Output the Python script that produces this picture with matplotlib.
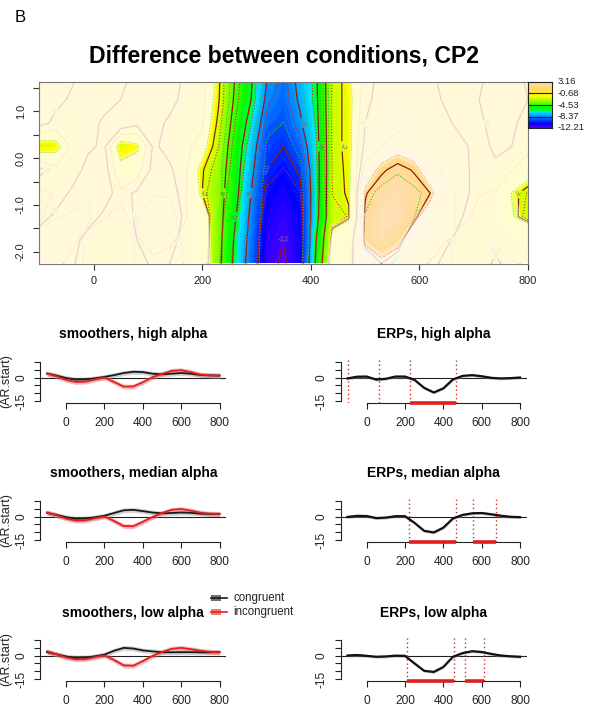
import numpy as np
import matplotlib
matplotlib.use("Agg")
import matplotlib.pyplot as plt
from matplotlib.colors import ListedColormap, Normalize, hsv_to_rgb
from matplotlib.patches import Rectangle
from matplotlib.lines import Line2D

plt.rcParams['font.family'] = ['Liberation Sans', 'DejaVu Sans']

# ---------------- data : heat map (difference surface) ----------------
heat_times = [-100, -70, -40, -10, 20, 50, 80, 110, 140, 170, 200, 230, 260, 290, 320,
              350, 380, 410, 440, 470, 500, 530, 560, 590, 620, 650, 680, 710, 740, 770, 800]
heat_y = [1.75, 1.25, 0.75, 0.25, -0.25, -0.75, -1.25, -1.75, -2.25]
heat_diff = [
    [0.4, 0.2, 0.1, -0.2, -0.3, -0.2, 0.2, 0.4, 0.3, -0.1, -0.3, -1.8, -4.0, -5.8, -8.0, -8.8, -7.6, -6.2, -2.4, -1.7,
     -0.3, 0.2, 0.3, 0.2, 0.1, -0.2, -0.3, -0.1, 0.2, 0.2, -0.1],
    [0.3, 0.2, -0.1, -0.2, -0.2, 0.0, 0.3, 0.4, 0.2, -0.2, -0.3, -1.9, -4.2, -6.0, -8.4, -9.0, -7.8, -6.3, -2.4, -1.7,
     -0.2, 0.3, 0.4, 0.3, 0.2, -0.1, -0.2, 0.0, 0.3, 0.2, 0.0],
    [0.3, -0.2, -0.3, -0.2, 0.1, 0.6, 0.2, 0.2, -0.1, -0.3, -0.5, -2.2, -4.6, -6.6, -9.0, -9.4, -8.2, -6.5, -2.4, -1.7,
     0.0, 0.4, 0.5, 0.4, 0.2, 0.1, -0.2, -0.1, 0.2, 0.1, -0.2],
    [-1.95, -1.8, -0.5, -0.1, 0.1, -1.95, -1.6, 0.1, -0.2, -0.5, -0.9, -2.6, -5.0, -7.2, -9.6, -10.0, -9.0, -6.7, -2.4, -1.7,
     0.2, 0.6, 0.9, 0.6, 0.3, 0.2, 0.1, -0.2, 0.1, 0.0, -0.4],
    [0.2, -0.3, -0.3, 0.2, 0.3, -1.1, -0.8, 0.2, 0.1, -0.4, -1.9, -3.0, -5.2, -7.6, -10.0, -10.6, -9.8, -6.8, -2.4, -1.8,
     0.8, 1.8, 2.4, 1.9, 0.7, 0.4, 0.2, -0.3, -0.1, -0.5, -1.0],
    [-0.5, -0.3, 0.1, 0.3, 0.2, -0.2, 0.1, 0.3, 0.3, -0.3, -2.0, -3.2, -5.4, -8.0, -10.6, -11.2, -10.4, -6.8, -2.3, -1.9,
     1.9, 2.7, 2.9, 2.6, 2.0, 0.5, 0.2, -0.3, -0.4, -1.7, -2.4],
    [-0.2, 0.1, 0.2, 0.2, -0.1, -0.3, 0.1, 0.4, 0.3, -0.1, -1.0, -3.3, -5.8, -8.4, -11.0, -11.6, -10.8, -6.6, -2.4, -2.1,
     2.2, 3.0, 3.1, 2.2, 1.2, 0.3, 0.0, -0.3, -0.4, -1.8, -2.3],
    [0.3, 0.3, 0.2, -0.2, -0.4, -0.3, 0.0, 0.3, 0.2, -0.2, -1.0, -3.4, -6.2, -8.6, -11.4, -12.0, -11.0, -6.0, -1.6, -0.8,
     2.3, 2.9, 2.4, 1.2, 0.4, 0.1, -0.2, -0.4, -0.2, -0.5, -0.9],
    [0.6, 0.4, 0.1, -0.4, -0.6, -0.5, -0.2, 0.1, 0.0, -0.3, -1.1, -3.5, -6.4, -8.8, -11.6, -12.2, -11.0, -5.6, -1.0, -0.4,
     1.4, 2.0, 1.6, 0.5, 0.2, -0.2, -0.4, -0.3, 0.1, -0.2, -0.3],
]
heat_se_by_row = [0.75, 0.7, 0.7, 0.7, 0.75, 0.85, 0.95, 1.05, 1.15]
ci_crit = 1.96
legend_levels = [3.16, -0.68, -4.53, -8.37, -12.21]
contour_levels = [-12, -10, -8, -6, -4, -2, 0, 2, 4]

# ---------------- data : small panels ----------------
curve_t = [-100, -50, 0, 50, 100, 150, 200, 250, 300, 350, 400, 450, 500, 550, 600, 650, 700, 750, 800]
smooth_high_cong = [2.5, 1.2, -0.3, -1.3, -1.2, -0.5, 0.4, 1.5, 2.8, 3.6, 3.4, 2.4, 2.0, 2.4, 2.8, 2.4, 1.6, 1.3, 1.2]
smooth_high_incong = [2.5, 0.8, -1.5, -2.8, -2.6, -1.2, 0.0, -2.8, -5.7, -5.6, -3.0, 0.2, 2.2, 4.2, 4.6, 3.4, 1.8, 1.4, 1.2]
smooth_med_cong = [2.3, 1.0, -0.4, -1.4, -1.3, -0.5, 0.5, 2.2, 3.9, 4.2, 3.4, 2.5, 2.0, 2.2, 2.5, 2.3, 1.8, 1.6, 1.6]
smooth_med_incong = [2.6, 0.8, -1.3, -2.6, -2.5, -1.1, 0.0, -2.8, -6.0, -6.1, -3.3, -0.4, 2.2, 4.2, 4.7, 3.7, 2.4, 1.8, 1.6]
smooth_low_cong = [2.1, 0.8, -0.6, -1.5, -1.3, -0.5, 0.6, 3.0, 4.8, 4.4, 3.2, 2.6, 2.1, 2.0, 2.1, 2.1, 2.0, 2.0, 2.1]
smooth_low_incong = [2.7, 0.8, -1.2, -2.4, -2.3, -1.0, 0.1, -2.8, -6.2, -6.4, -3.5, -0.3, 2.2, 4.2, 4.8, 4.0, 3.0, 2.3, 2.0]
erp_high = [-0.6, 0.5, 0.6, -1.3, -0.8, 0.6, 0.6, -1.5, -6.5, -9.4, -6.8, -1.2, 1.0, 1.5, 0.8, -0.2, -0.6, -0.4, 0.0]
erp_med = [-0.3, 0.4, 0.3, -1.0, -0.7, 0.2, 0.2, -4.0, -9.0, -10.0, -7.0, -1.2, 1.0, 2.0, 2.2, 1.4, 0.5, -0.2, -0.4]
erp_low = [0.0, 0.3, -0.2, -0.8, -0.6, -0.1, -0.2, -5.0, -9.6, -10.3, -7.2, -0.8, 1.5, 2.7, 2.2, 1.0, 0.0, -0.5, -0.8]
smooth_band = 1.5
erp_band = 0.9
sig_lines_high = [-99, 64, 225, 464]
sig_bars_high = [(225, 464)]
sig_lines_med = [220, 466, 556, 676]
sig_bars_med = [(220, 466), (556, 676)]
sig_lines_low = [208, 455, 511, 611]
sig_bars_low = [(208, 455), (511, 611)]
panel_xticks = [0, 200, 400, 600, 800]
panel_yticks = [-15, -10, -5, 0, 5, 10]
panel_ylabels = ['-15', '', '', '0', '', '']
heat_xticks = [0, 200, 400, 600, 800]
heat_yticks = [-2.0, -1.5, -1.0, -0.5, 0.0, 0.5, 1.0, 1.5]
heat_ylabels = ['-2.0', '', '-1.0', '', '0.0', '', '1.0', '']

# ---------------- figure ----------------
W, H = 594, 711
fig = plt.figure(figsize=(W / 100, H / 100), dpi=100)
fig.patch.set_facecolor('white')


def px_axes(l, t, r, b):
    return fig.add_axes([l / W, 1 - b / H, (r - l) / W, (b - t) / H])


def topo_colors(n):
    j = n // 3
    k = n // 3
    i = n - j - k
    hsv = [(h, 1, 1) for h in np.linspace(43 / 60, 31 / 60, i)]
    hsv += [(h, 1, 1) for h in np.linspace(23 / 60, 11 / 60, j)]
    hsv += [(h, s, 1) for h, s in zip(np.linspace(10 / 60, 6 / 60, k), np.linspace(1, 0.3, k))]
    return hsv_to_rgb(np.array(hsv))


cmap = ListedColormap(topo_colors(50))
norm = Normalize(vmin=legend_levels[-1], vmax=legend_levels[0])

fig.text(15 / W, 1 - 22 / H, 'B', fontsize=12, ha='left', va='baseline')
fig.text(283.7 / W, 1 - 62.7 / H, 'Difference between conditions, CP2', fontsize=16.6,
         fontweight='bold', ha='center', va='baseline')

# heat map
ax = px_axes(39.3, 82, 528, 263.5)
Z = np.array(heat_diff)
SE = np.array(heat_se_by_row)[:, None] * np.ones_like(Z)
T = np.array(heat_times, dtype=float)
Yv = np.array(heat_y)
dt = T[1] - T[0]
dy = Yv[0] - Yv[1]
ext = (T[0] - dt / 2, T[-1] + dt / 2, Yv[-1] - dy / 2, Yv[0] + dy / 2)
ax.imshow(Z, cmap=cmap, norm=norm, extent=ext, origin='upper', aspect='auto',
          interpolation='bilinear', interpolation_stage='data', zorder=1)
TT, YY = np.meshgrid(T, Yv[::-1])
Za = Z[::-1]
SEa = SE[::-1]
cs = ax.contour(TT, YY, Za, levels=contour_levels, colors='#8E1B12', linewidths=0.9,
                linestyles='solid', zorder=2)
ax.clabel(cs, fmt='%d', fontsize=5.5, colors='#767676', inline=True, inline_spacing=1)
ax.contour(TT, YY, Za + ci_crit * SEa, levels=contour_levels, colors='#2EC02E', linewidths=0.8,
           linestyles=':', zorder=2)
ax.contour(TT, YY, Za - ci_crit * SEa, levels=contour_levels, colors='#DD2A2A', linewidths=0.8,
           linestyles=':', zorder=2)
# non-significant areas are washed out with a translucent white layer
zscore = Za / SEa
ax.contourf(TT, YY, zscore, levels=[-ci_crit * 1.12, -ci_crit, ci_crit, ci_crit * 1.12],
            colors=[(1, 1, 1, 0.4), (1, 1, 1, 0.8), (1, 1, 1, 0.4)], zorder=5, antialiased=True)
ax.set_xlim(-100, 800)
ax.set_ylim(-2.25, 1.625)
ax.set_xticks(heat_xticks)
ax.set_yticks(heat_yticks)
ax.set_yticklabels(heat_ylabels)
ax.tick_params(length=4.3, width=0.8, color='#333333', labelsize=7.9, direction='out',
               labelcolor='#222222')
ax.tick_params(axis='x', pad=5.0)
ax.tick_params(axis='y', pad=5.5, labelrotation=90)
for lab in ax.get_yticklabels():
    lab.set_va('center')
for s in ax.spines.values():
    s.set_color('#777777')
    s.set_linewidth(0.8)
    s.set_zorder(6)

# colour legend
cax = px_axes(528, 82, 552, 128)
grad = np.linspace(legend_levels[0], legend_levels[-1], 300)[:, None]
cax.imshow(grad, cmap=cmap, norm=norm, aspect='auto',
           extent=(0, 1, legend_levels[-1], legend_levels[0]), origin='upper')
cax.set_xlim(0, 1)
cax.set_ylim(legend_levels[-1], legend_levels[0])
for v in legend_levels[1:-1]:
    cax.axhline(v, color='#222222', lw=0.8)
cax.set_xticks([])
cax.set_yticks([])
for s in cax.spines.values():
    s.set_color('#222222')
    s.set_linewidth(0.8)
for v in legend_levels:
    cax.text(1.25, v, '%.2f' % v, transform=cax.get_yaxis_transform(), fontsize=6.8,
             ha='left', va='center', color='#222222')


# small panels
def small_panel(left, row, title):
    top = 360 + 139 * row
    bottom = 403 + 139 * row
    a = px_axes(left, top, left + 186.5, bottom)
    a.set_xlim(-136, 836)
    a.set_ylim(-16, 11)
    for s in ['top', 'right']:
        a.spines[s].set_visible(False)
    a.spines['left'].set_bounds(-15, 10)
    a.spines['bottom'].set_bounds(0, 800)
    for s in ['left', 'bottom']:
        a.spines[s].set_linewidth(0.8)
        a.spines[s].set_color('#222222')
    a.set_xticks(panel_xticks)
    a.set_yticks(panel_yticks)
    a.set_yticklabels(panel_ylabels)
    a.tick_params(length=4.6, width=0.8, color='#222222', labelsize=8.6, direction='out',
                  labelcolor='#222222')
    a.tick_params(axis='x', pad=5.5)
    a.tick_params(axis='y', pad=4.5, labelrotation=90)
    for lab in a.get_yticklabels():
        lab.set_va('center')
    a.axhline(0, color='#222222', lw=0.8, zorder=2)
    fig.text((left + 93.25) / W, 1 - (338.5 + 139 * row) / H, title, fontsize=10,
             fontweight='bold', ha='center', va='baseline')
    a.patch.set_alpha(0)
    return a


def draw_smooth(a, cong, incong):
    t = np.array(curve_t)
    c = np.array(cong)
    r = np.array(incong)
    a.fill_between(t, c - smooth_band, c + smooth_band, color='#9A9A9A', alpha=0.45, lw=0, zorder=3)
    a.plot(t, c, color='#1A1A1A', lw=1.3, zorder=4, solid_joinstyle='round')
    a.fill_between(t, r - smooth_band, r + smooth_band, color='#F06060', alpha=0.45, lw=0, zorder=3)
    a.plot(t, r, color='#E02020', lw=1.3, zorder=4, solid_joinstyle='round')


def draw_erp(a, erp, lines, bars):
    t = np.array(curve_t)
    e = np.array(erp)
    a.fill_between(t, e - erp_band, e + erp_band, color='#9A9A9A', alpha=0.5, lw=0, zorder=3)
    a.plot(t, e, color='#111111', lw=1.6, zorder=4, solid_joinstyle='round')
    for x in lines:
        a.axvline(x, color='#D42A2A', lw=1.0, ls=(0, (1, 2)), zorder=3)
    for s0, s1 in bars:
        a.plot([s0, s1], [-16, -16], color='#E02020', lw=2.6, solid_capstyle='butt',
               clip_on=False, zorder=6)


rows = [('high', smooth_high_cong, smooth_high_incong, erp_high, sig_lines_high, sig_bars_high),
        ('median', smooth_med_cong, smooth_med_incong, erp_med, sig_lines_med, sig_bars_med),
        ('low', smooth_low_cong, smooth_low_incong, erp_low, sig_lines_low, sig_bars_low)]
for i, (name, cg, ic, erp, ln, br) in enumerate(rows):
    a1 = small_panel(40, i, 'smoothers, %s alpha' % name)
    draw_smooth(a1, cg, ic)
    fig.text(6.7 / W, 1 - (381.5 + 139 * i) / H, '(AR.start)', rotation=90, fontsize=9,
             ha='center', va='center', color='#222222')
    a2 = small_panel(340.5, i, 'ERPs, %s alpha' % name)
    draw_erp(a2, erp, ln, br)

# legend (drawn in figure pixels)
leg_items = [('congruent', '#555555', '#1A1A1A', 598), ('incongruent', '#F06060', '#E02020', 611.5)]
for lab, fillc, linec, yc in leg_items:
    fig.patches.append(Rectangle((211 / W, 1 - (yc + 3) / H), 10 / W, 6 / H, transform=fig.transFigure,
                                 facecolor=fillc, edgecolor='none', alpha=0.85))
    fig.lines.append(Line2D([211 / W, 227 / W], [1 - yc / H, 1 - yc / H], transform=fig.transFigure,
                            color=linec, lw=1.2))
    fig.text(233 / W, 1 - (yc + 3.5) / H, lab, fontsize=8.3, ha='left', va='baseline', color='#222222')

fig.savefig('out.png', dpi=100)
